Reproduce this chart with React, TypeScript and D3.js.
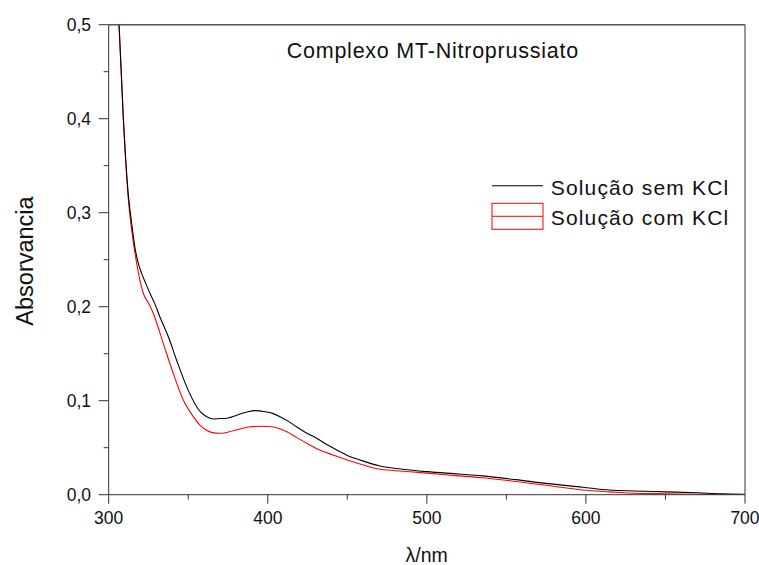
import React from "react";
import * as d3 from "d3";

const wavelengthSem = [306.5, 308, 309.2, 310.5, 312.3, 314.5, 316.5, 318.5, 320.7, 323, 326, 329, 332.2, 337.5, 342.7, 349, 355.3, 358, 361.6, 366, 370, 373, 377, 382.5, 387, 392, 398.3, 403, 407.7, 413, 418, 424, 430.7, 438, 445.4, 451, 458, 470.5, 485, 500, 520, 535, 556, 575, 598, 615, 630, 650, 670, 685, 700];
const absorbSem = [0.5, 0.445, 0.4, 0.362, 0.32, 0.288, 0.263, 0.247, 0.2355, 0.226, 0.214, 0.203, 0.189, 0.168, 0.143, 0.115, 0.0936, 0.0875, 0.083, 0.0805, 0.081, 0.081, 0.0825, 0.0858, 0.088, 0.0894, 0.0883, 0.0865, 0.083, 0.078, 0.0723, 0.066, 0.06, 0.0525, 0.0457, 0.041, 0.0369, 0.0305, 0.027, 0.0245, 0.022, 0.02, 0.016, 0.012, 0.008, 0.005, 0.004, 0.003, 0.002, 0.001, 0.0005];

const wavelengthCom = [306.5, 308, 309.2, 310.5, 312.3, 314.5, 317.6, 319.5, 321.8, 325, 328, 334.3, 340.6, 346.9, 353.2, 357, 361, 365, 370, 378.3, 389, 396, 402.5, 407, 412, 418, 424.5, 432, 441, 450, 458, 470.5, 485, 500, 520, 535, 556, 575, 598, 615, 630, 650, 670, 700];
const absorbCom = [0.5, 0.445, 0.4, 0.36, 0.315, 0.281, 0.246, 0.229, 0.214, 0.204, 0.193, 0.161, 0.129, 0.1007, 0.083, 0.0745, 0.069, 0.066, 0.0653, 0.068, 0.0723, 0.0728, 0.0723, 0.0705, 0.067, 0.061, 0.0547, 0.048, 0.0422, 0.037, 0.0327, 0.027, 0.025, 0.023, 0.02, 0.018, 0.014, 0.01, 0.005, 0.003, 0.0015, 0.001, 0.0005, 0];

const xMajor = [300, 400, 500, 600, 700];
const xMinor = [350, 450, 550, 650];
const yMajor = [0, 0.1, 0.2, 0.3, 0.4, 0.5];
const yMinor = [0.05, 0.15, 0.25, 0.35, 0.45];

const seriesNames = ["Solução sem KCl", "Solução com KCl"];
const title = "Complexo MT-Nitroprussiato";
const xLabel = "λ/nm";
const yLabel = "Absorvancia";

export default function App() {
  const left = 108.7, right = 745, top = 24.7, bottom = 494.7;
  const x = d3.scaleLinear().domain([300, 700]).range([left, right]);
  const y = d3.scaleLinear().domain([0, 0.5]).range([bottom, top]);
  const font = "'Liberation Sans', Arial, sans-serif";
  const line = d3
    .line<[number, number]>()
    .x((d) => x(d[0]))
    .y((d) => y(d[1]))
    .curve(d3.curveMonotoneX);
  const semPts = wavelengthSem.map((w, i) => [w, absorbSem[i]] as [number, number]);
  const comPts = wavelengthCom.map((w, i) => [w, absorbCom[i]] as [number, number]);
  const axisColor = "#333";

  return (
    <svg width={759} height={565} style={{ position: "absolute", left: 0, top: 0, background: "#fff" }} fontFamily={font}>
      <rect x={0} y={0} width={759} height={565} fill="#fff" />
      <defs>
        <clipPath id="plot">
          <rect x={left} y={top} width={right - left} height={bottom - top} />
        </clipPath>
      </defs>
      <g clipPath="url(#plot)">
        <path d={line(comPts) || ""} fill="none" stroke="#ff0000" strokeWidth={1.1} />
        <path d={line(semPts) || ""} fill="none" stroke="#000" strokeWidth={1.1} />
      </g>
      {/* frame */}
      <line x1={left} x2={right} y1={top} y2={top} stroke="#555" strokeWidth={1.5} />
      <line x1={right} x2={right} y1={top} y2={bottom} stroke={axisColor} strokeWidth={1} />
      <line x1={left} x2={left} y1={top} y2={bottom} stroke={axisColor} strokeWidth={1} />
      <line x1={left} x2={right} y1={bottom} y2={bottom} stroke={axisColor} strokeWidth={1} />
      {/* y ticks */}
      {yMajor.map((v) => (
        <g key={"ym" + v}>
          <line x1={left - 10} x2={left} y1={y(v)} y2={y(v)} stroke={axisColor} strokeWidth={1} />
          <text x={91} y={y(v) + 6} textAnchor="end" fontSize={17.5} fill="#111">
            {v.toFixed(1).replace(".", ",")}
          </text>
        </g>
      ))}
      {yMinor.map((v) => (
        <line key={"yn" + v} x1={left - 5} x2={left} y1={y(v)} y2={y(v)} stroke={axisColor} strokeWidth={1} />
      ))}
      {/* x ticks */}
      {xMajor.map((v) => (
        <g key={"xm" + v}>
          <line x1={x(v)} x2={x(v)} y1={bottom} y2={bottom + 9} stroke={axisColor} strokeWidth={1} />
          <text x={x(v)} y={bottom + 29.5} textAnchor="middle" fontSize={17.5} fill="#111">
            {v}
          </text>
        </g>
      ))}
      {xMinor.map((v) => (
        <line key={"xn" + v} x1={x(v)} x2={x(v)} y1={bottom} y2={bottom + 5} stroke={axisColor} strokeWidth={1} />
      ))}
      {/* axis labels */}
      <text x={426.7} y={561.5} textAnchor="middle" fontSize={19.5} fill="#111">
        {xLabel}
      </text>
      <text
        transform={`translate(32.5, 261) rotate(-90)`}
        textAnchor="middle"
        fontSize={23.5}
        fill="#111"
      >
        {yLabel}
      </text>
      {/* title */}
      <text x={286.7} y={58} fontSize={21.5} fill="#111" textLength={291.5} lengthAdjust="spacing">
        {title}
      </text>
      {/* legend */}
      <line x1={492} x2={543} y1={185.7} y2={185.7} stroke="#000" strokeWidth={1.1} />
      <text x={550.7} y={195} fontSize={21} fill="#111" textLength={177.5} lengthAdjust="spacing">
        {seriesNames[0]}
      </text>
      <rect x={492} y={203.3} width={51} height={26} fill="none" stroke="#ff0000" strokeWidth={1} />
      <line x1={492} x2={543} y1={216.3} y2={216.3} stroke="#ff0000" strokeWidth={1} />
      <text x={550.7} y={224.5} fontSize={21} fill="#111" textLength={177.5} lengthAdjust="spacing">
        {seriesNames[1]}
      </text>
    </svg>
  );
}
